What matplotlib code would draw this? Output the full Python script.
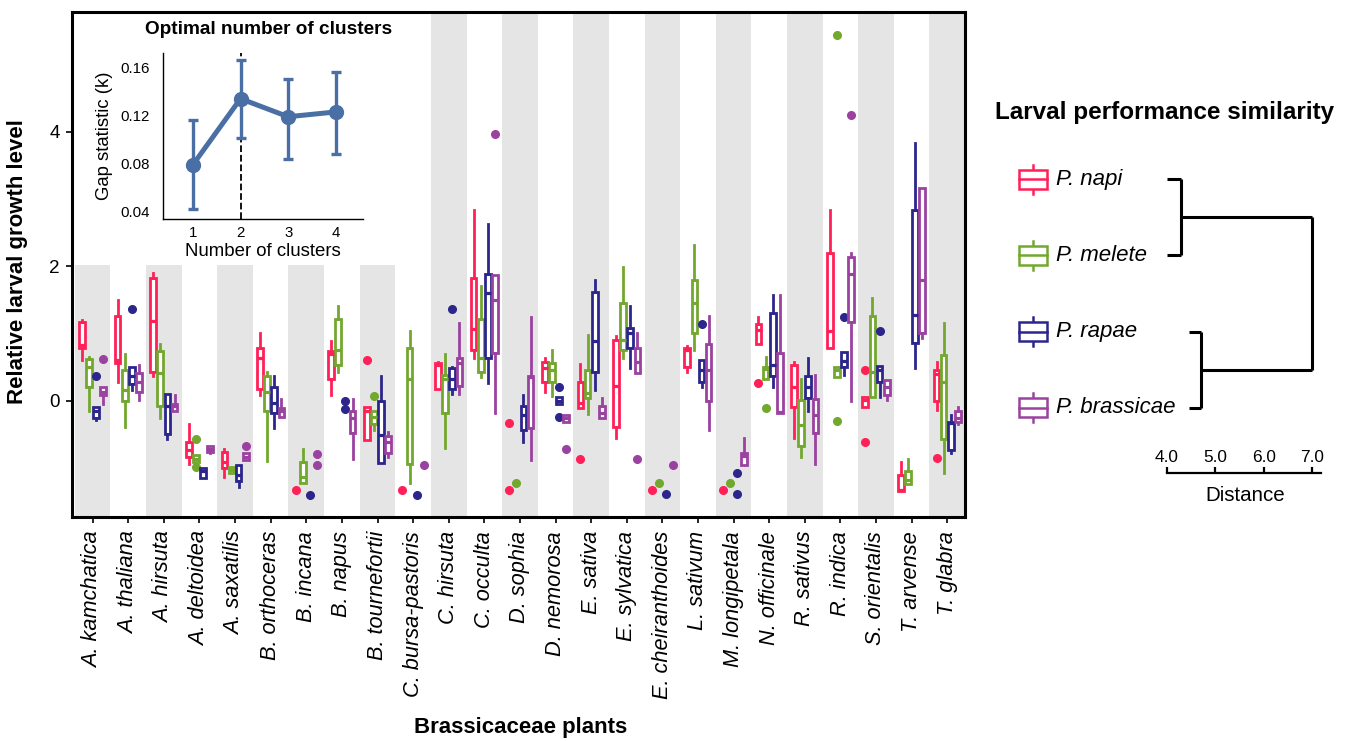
import numpy as np
import matplotlib
matplotlib.use("Agg")
import matplotlib.pyplot as plt
from matplotlib.patches import Rectangle

plt.rcParams['font.family'] = ['Liberation Sans', 'DejaVu Sans']

plants = ['A. kamchatica', 'A. thaliana', 'A. hirsuta', 'A. deltoidea', 'A. saxatilis',
          'B. orthoceras', 'B. incana', 'B. napus', 'B. tournefortii', 'C. bursa-pastoris',
          'C. hirsuta', 'C. occulta', 'D. sophia', 'D. nemorosa', 'E. sativa',
          'E. sylvatica', 'E. cheiranthoides', 'L. sativum', 'M. longipetala', 'N. officinale',
          'R. sativus', 'R. indica', 'S. orientalis', 'T. arvense', 'T. glabra']
species = ['P. napi', 'P. melete', 'P. rapae', 'P. brassicae']
colors = ['#FF2058', '#72A82E', '#2C268C', '#9B42A0']

# box stats per plant: (whislo, q1, med, q3, whishi, fliers)
napi = [
    (0.60, 0.78, 0.83, 1.17, 1.20, []),
    (0.28, 0.56, 0.60, 1.26, 1.49, []),
    (0.37, 0.43, 1.19, 1.82, 1.90, []),
    (-0.94, -0.84, -0.73, -0.61, -0.34, []),
    (-1.13, -1.00, -0.91, -0.76, -0.72, []),
    (0.08, 0.17, 0.64, 0.79, 1.01, []),
    (-1.32, -1.32, -1.32, -1.32, -1.32, [-1.32]),
    (0.08, 0.33, 0.69, 0.74, 0.88, []),
    (-0.59, -0.59, -0.16, -0.09, -0.09, [0.60]),
    (-1.32, -1.32, -1.32, -1.32, -1.32, [-1.32]),
    (0.17, 0.17, 0.53, 0.56, 0.58, []),
    (0.64, 0.75, 1.06, 1.83, 2.84, []),
    (-1.32, -1.32, -1.32, -1.32, -1.32, [-0.33, -1.32]),
    (0.13, 0.28, 0.48, 0.58, 0.63, []),
    (-0.11, -0.11, -0.03, 0.28, 0.55, [-0.86]),
    (-0.56, -0.39, 0.22, 0.90, 0.96, []),
    (-1.32, -1.32, -1.32, -1.32, -1.32, [-1.32]),
    (0.42, 0.50, 0.75, 0.79, 0.82, []),
    (-1.32, -1.32, -1.32, -1.32, -1.32, [-1.32]),
    (0.85, 0.85, 1.05, 1.14, 1.25, [0.27]),
    (-0.56, -0.10, 0.21, 0.53, 0.58, []),
    (0.78, 0.78, 1.04, 2.19, 2.83, []),
    (-0.10, -0.10, 0.01, 0.06, 0.06, [0.46, -0.62]),
    (-1.34, -1.34, -1.32, -1.10, -0.91, []),
    (-0.14, -0.01, 0.40, 0.46, 0.58, [-0.85]),
]
melete = [
    (-0.16, 0.20, 0.50, 0.62, 0.65, []),
    (-0.39, -0.01, 0.16, 0.46, 0.70, []),
    (-0.25, -0.08, 0.41, 0.74, 0.84, []),
    (-0.91, -0.91, -0.86, -0.81, -0.81, [-0.57, -0.99]),
    (-1.07, -1.07, -1.03, -0.99, -0.99, []),
    (-0.89, -0.16, 0.13, 0.37, 0.42, []),
    (-1.23, -1.23, -1.13, -0.91, -0.72, []),
    (0.43, 0.53, 0.75, 1.21, 1.40, []),
    (-0.44, -0.34, -0.24, -0.16, -0.16, [0.07]),
    (-1.22, -0.94, 0.33, 0.79, 1.03, []),
    (-0.71, -0.19, 0.32, 0.38, 0.70, []),
    (0.35, 0.43, 0.64, 1.22, 1.70, []),
    (-1.22, -1.22, -1.22, -1.22, -1.22, [-1.22]),
    (0.07, 0.28, 0.45, 0.56, 0.75, []),
    (-0.20, 0.04, 0.11, 0.45, 0.98, []),
    (0.63, 0.75, 0.90, 1.45, 1.98, []),
    (-1.22, -1.22, -1.22, -1.22, -1.22, [-1.22]),
    (0.76, 1.00, 1.45, 1.80, 2.31, []),
    (-1.22, -1.22, -1.22, -1.22, -1.22, [-1.22]),
    (0.33, 0.33, 0.47, 0.50, 0.65, [-0.11]),
    (-0.84, -0.68, -0.36, 0.01, 0.33, []),
    (0.35, 0.35, 0.45, 0.50, 0.50, [5.43, -0.30]),
    (0.06, 0.06, 0.43, 1.26, 1.52, []),
    (-1.24, -1.24, -1.18, -1.04, -0.86, []),
    (-1.07, -0.57, 0.28, 0.68, 1.16, []),
]
rapae = [
    (-0.29, -0.25, -0.16, -0.09, -0.09, [0.37]),
    (0.16, 0.25, 0.36, 0.50, 0.50, [1.36]),
    (-0.57, -0.49, -0.08, 0.10, 0.10, []),
    (-1.15, -1.15, -1.05, -1.00, -1.00, []),
    (-1.28, -1.20, -1.10, -0.96, -0.96, []),
    (-0.40, -0.19, -0.04, 0.21, 0.36, []),
    (-1.40, -1.40, -1.40, -1.40, -1.40, [-1.40]),
    (-0.13, -0.13, -0.13, -0.13, -0.13, [-0.01, -0.13]),
    (-0.93, -0.93, -0.51, 0.00, 0.37, []),
    (-1.40, -1.40, -1.40, -1.40, -1.40, [-1.40]),
    (0.10, 0.18, 0.32, 0.48, 0.50, [1.36]),
    (0.26, 0.63, 1.60, 1.88, 2.62, []),
    (-0.61, -0.44, -0.21, -0.08, 0.08, []),
    (-0.05, -0.05, 0.00, 0.06, 0.06, [0.20, -0.24]),
    (0.16, 0.42, 0.88, 1.62, 1.79, []),
    (0.48, 0.79, 1.01, 1.08, 1.40, []),
    (-1.39, -1.39, -1.39, -1.39, -1.39, [-1.39]),
    (0.21, 0.28, 0.46, 0.61, 0.61, [1.14]),
    (-1.39, -1.39, -1.39, -1.39, -1.39, [-1.07, -1.39]),
    (0.21, 0.37, 0.53, 1.31, 1.57, []),
    (-0.16, 0.04, 0.21, 0.36, 0.63, []),
    (0.38, 0.50, 0.59, 0.73, 0.73, [1.25]),
    (0.06, 0.28, 0.46, 0.52, 0.52, [1.03]),
    (0.48, 0.86, 1.27, 2.84, 3.83, []),
    (-0.77, -0.73, -0.33, -0.31, -0.21, []),
]
brassicae = [
    (-0.05, 0.08, 0.13, 0.20, 0.20, [0.62]),
    (0.01, 0.13, 0.28, 0.41, 0.53, []),
    (-0.16, -0.16, -0.08, -0.05, 0.08, []),
    (-0.78, -0.76, -0.72, -0.67, -0.67, []),
    (-0.88, -0.88, -0.83, -0.78, -0.78, [-0.67]),
    (-0.24, -0.24, -0.16, -0.11, 0.02, []),
    (-0.96, -0.96, -0.96, -0.96, -0.96, [-0.79, -0.96]),
    (-0.86, -0.48, -0.26, -0.16, 0.02, []),
    (-0.84, -0.78, -0.62, -0.53, -0.46, []),
    (-0.96, -0.96, -0.96, -0.96, -0.96, [-0.96]),
    (0.10, 0.22, 0.56, 0.63, 1.15, []),
    (-0.18, 0.71, 1.50, 1.87, 1.87, [3.97]),
    (-0.88, -0.40, 0.35, 0.37, 1.25, []),
    (-0.31, -0.31, -0.26, -0.21, -0.21, [-0.72]),
    (-0.26, -0.26, -0.19, -0.08, 0.04, []),
    (0.41, 0.41, 0.58, 0.78, 1.01, [-0.86]),
    (-0.95, -0.95, -0.95, -0.95, -0.95, [-0.95]),
    (-0.44, -0.01, 0.45, 0.85, 1.26, []),
    (-0.96, -0.96, -0.82, -0.78, -0.55, []),
    (-0.19, -0.19, -0.17, 0.71, 1.57, []),
    (-0.94, -0.48, -0.21, 0.02, 0.38, []),
    (-0.01, 1.17, 1.88, 2.14, 2.19, [4.25]),
    (0.01, 0.08, 0.21, 0.31, 0.31, []),
    (0.93, 1.00, 1.79, 3.16, 3.16, []),
    (-0.35, -0.31, -0.25, -0.16, -0.10, []),
]

# inset: gap statistic
gap_k = [1, 2, 3, 4]
gap_val = [0.079, 0.134, 0.119, 0.123]
gap_lo = [0.042, 0.101, 0.084, 0.088]
gap_hi = [0.116, 0.166, 0.150, 0.156]
best_k = 2

# dendrogram (leaf order napi, melete, rapae, brassicae)
leaf_start = [4.0, 4.0, 4.45, 4.45]
pair_height = [4.3, 4.71]
root_height = 7.0
dist_ticks = [4.0, 5.0, 6.0, 7.0]

W, H = 1352, 741
fig = plt.figure(figsize=(W / 100, H / 100), dpi=100)

# ---------------- main boxplot panel ----------------
ax = fig.add_axes([72 / W, 1 - 517 / H, 893 / W, 505 / H])
n = len(plants)
x = np.arange(1, n + 1)
for i in range(0, n, 2):
    ax.axvspan(x[i] - 0.5, x[i] + 0.5, color='#E5E5E5', lw=0, zorder=0)
# white area behind the inset
ax.add_patch(Rectangle((0.3, 2.02), 10.2, 6, facecolor='white', edgecolor='none', zorder=0.5))

offsets = [-0.3, -0.1, 0.1, 0.3]
for s, (stats, col) in enumerate(zip([napi, melete, rapae, brassicae], colors)):
    bx = [dict(whislo=a, q1=b, med=c, q3=d, whishi=e, fliers=f) for a, b, c, d, e, f in stats]
    ax.bxp(bx, positions=x + offsets[s], widths=0.16, patch_artist=True, showcaps=False,
           boxprops=dict(facecolor='white', edgecolor=col, linewidth=2.0),
           medianprops=dict(color=col, linewidth=2.3, solid_capstyle='butt'),
           whiskerprops=dict(color=col, linewidth=2.0),
           flierprops=dict(marker='o', markerfacecolor=col, markeredgecolor=col, markersize=5.5),
           manage_ticks=False, zorder=3)

ax.set_xlim(0.42, 25.5)
ax.set_ylim(-1.728, 5.776)
ax.set_xticks(x)
ax.set_xticklabels(plants, rotation=90, fontsize=15.7, style='italic')
ax.set_yticks([0, 2, 4])
ax.set_yticklabels(['0', '2', '4'], fontsize=13.6)
ax.tick_params(length=4, width=1.2, color='black')
ax.tick_params(axis='x', pad=6)
ax.tick_params(axis='y', pad=5)
for sp in ax.spines.values():
    sp.set_linewidth(2.2)
fig.text(18 / W, 1 - 262 / H, 'Relative larval growth level', rotation=90, fontsize=16,
         fontweight='bold', ha='center', va='center')
fig.text(521 / W, 1 - 728 / H, 'Brassicaceae plants', fontsize=16, fontweight='bold',
         ha='center', va='center')

# ---------------- inset ----------------
axin = fig.add_axes([163.3 / W, 1 - 219.3 / H, 199.7 / W, 166.3 / H])
yerr = [np.array(gap_val) - np.array(gap_lo), np.array(gap_hi) - np.array(gap_val)]
axin.errorbar(gap_k, gap_val, yerr=yerr, color='#4A6FA5', lw=3.6, marker='o', ms=10,
              elinewidth=2.4, capsize=3.6, capthick=2.4, zorder=3)
axin.axvline(best_k, color='black', ls='--', lw=1.3, zorder=2)
axin.set_xlim(0.38, 4.57)
axin.set_ylim(0.0337, 0.172)
axin.set_xticks(gap_k)
axin.set_yticks([0.04, 0.08, 0.12, 0.16])
axin.set_yticklabels(['0.04', '0.08', '0.12', '0.16'])
axin.tick_params(length=0, labelsize=10.8)
axin.tick_params(axis='y', pad=10)
axin.tick_params(axis='x', pad=5)
axin.spines['top'].set_visible(False)
axin.spines['right'].set_visible(False)
axin.spines['left'].set_linewidth(1.0)
axin.spines['bottom'].set_linewidth(1.0)
axin.set_xlabel('Number of clusters', fontsize=13.4, labelpad=2)
axin.set_ylabel('Gap statistic (k)', fontsize=13.3, labelpad=5)
fig.text(269 / W, 1 - 30 / H, 'Optimal number of clusters', fontsize=13.7,
         fontweight='bold', ha='center', va='center')

# ---------------- dendrogram + legend ----------------
axd = fig.add_axes([972.7 / W, 1 - 529.4 / H, 358.9 / W, 441.4 / H])
axd.set_xlim(0, 7.4)
axd.set_ylim(4.6, -1.2)
axd.patch.set_alpha(0)
leaf_y = np.arange(len(species))
dkw = dict(color='black', lw=2.2, solid_capstyle='butt')
for p in range(2):
    a, b = leaf_y[2 * p], leaf_y[2 * p + 1]
    h = pair_height[p]
    axd.plot([leaf_start[2 * p], h], [a, a], **dkw)
    axd.plot([leaf_start[2 * p + 1], h], [b, b], **dkw)
    axd.plot([h, h], [a, b], **dkw)
    axd.plot([h, root_height], [(a + b) / 2, (a + b) / 2], **dkw)
axd.plot([root_height, root_height], [0.5, 2.5], **dkw)

for yy, name, col in zip(leaf_y, species, colors):
    axd.plot([1.237, 1.237], [yy - 0.19, yy + 0.19], color=col, lw=1.8)
    axd.add_patch(Rectangle((1.237 - 0.29, yy - 0.125), 0.58, 0.25, facecolor='white',
                            edgecolor=col, lw=1.8, zorder=3))
    axd.plot([1.237 - 0.29, 1.237 + 0.29], [yy, yy], color=col, lw=1.8, zorder=4)
    axd.text(1.72, yy, name, fontsize=16, style='italic', va='center', ha='left')

for side in ['left', 'right', 'bottom']:
    axd.spines[side].set_visible(False)
axd.spines['top'].set_position(('data', 3.86))
axd.spines['top'].set_bounds(4.0, 7.19)
axd.spines['top'].set_linewidth(1.6)
axd.xaxis.set_ticks_position('top')
axd.set_xticks(dist_ticks)
axd.set_xticklabels(['%.1f' % t for t in dist_ticks])
axd.tick_params(axis='x', direction='out', length=4, width=1.6, labelsize=12.4, pad=2)
axd.set_yticks([])
axd.text(5.61, 4.15, 'Distance', fontsize=14.8, ha='center', va='center')
fig.text(1165 / W, 1 - 112 / H, 'Larval performance similarity', fontsize=17.5,
         fontweight='bold', ha='center', va='center')

fig.savefig('out.png', dpi=100)
